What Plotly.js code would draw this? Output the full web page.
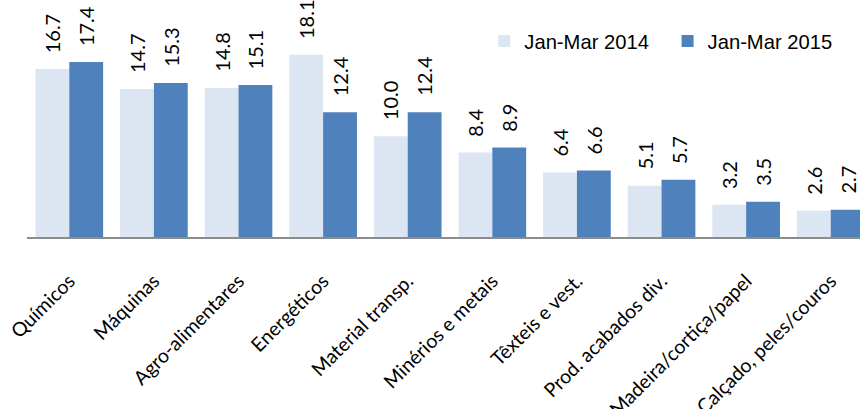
<!DOCTYPE html>
<html><head><meta charset="utf-8">
<script src="https://cdn.plot.ly/plotly-3.0.1.min.js"></script>
<style>html,body{margin:0;padding:0;background:#fff;}#chart{width:860px;height:409px;}</style>
</head><body><div id="chart"></div>
<script>
const categories = ["Químicos","Máquinas","Agro-alimentares","Energéticos","Material transp.","Minérios e metais","Têxteis e vest.","Prod. acabados div.","Madeira/cortiça/papel","Calçado, peles/couros"];
const series2014 = [16.7,14.7,14.8,18.1,10.0,8.4,6.4,5.1,3.2,2.6];
const series2015 = [17.4,15.3,15.1,12.4,12.4,8.9,6.6,5.7,3.5,2.7];
const seriesNames = ["Jan-Mar 2014","Jan-Mar 2015"];
const colors = ["#dce6f2","#4f81bd"];

const bargap = 0.2;
const half = (1 - bargap) / 4;
const labelFont = {family: "Lato, 'Open Sans', sans-serif", size: 20, color: "#000"};
const tickFont = {family: "Lato, 'Open Sans', sans-serif", size: 19.5, color: "#000"};
const legendFont = {family: "'Liberation Sans', Arial, sans-serif", size: 20.2, color: "#000"};

const legendIds = ["legend", "legend2"];
const traces = [series2014, series2015].map((vals, i) => ({
  type: "bar", name: seriesNames[i], x: categories, y: vals,
  marker: {color: colors[i]}, hoverinfo: "skip", legend: legendIds[i]
}));

const annotations = [];
[series2014, series2015].forEach((vals, i) => {
  vals.forEach((v, j) => {
    annotations.push({
      x: j + (i === 0 ? -half : half), y: v, xref: "x", yref: "y",
      text: v.toFixed(1), showarrow: false, textangle: -90,
      xanchor: "center", yanchor: "bottom", yshift: 14, font: labelFont
    });
  });
});

const legendBase = {orientation: "h", xanchor: "left", y: 0.91, yanchor: "top",
  font: legendFont, itemwidth: 30, bgcolor: "rgba(0,0,0,0)"};

const layout = {
  width: 860, height: 409,
  margin: {l: 27, r: 0, t: 0, b: 172},
  paper_bgcolor: "#fff", plot_bgcolor: "#fff",
  barmode: "group", bargap: bargap, bargroupgap: 0,
  showlegend: true,
  legend: Object.assign({}, legendBase, {x: 0.549}),
  legend2: Object.assign({}, legendBase, {x: 0.769}),
  xaxis: {type: "category", range: [-0.5, 9.346], showline: true, linecolor: "#8c8c8c", linewidth: 2,
    ticks: "", tickangle: -45, ticklabelstandoff: 23, showgrid: false, zeroline: false,
    tickfont: tickFont, automargin: false},
  yaxis: {range: [0, 23.55], visible: false, showgrid: false, zeroline: false, fixedrange: true},
  annotations: annotations
};

Plotly.newPlot("chart", traces, layout, {displayModeBar: false, staticPlot: true});
</script></body></html>
